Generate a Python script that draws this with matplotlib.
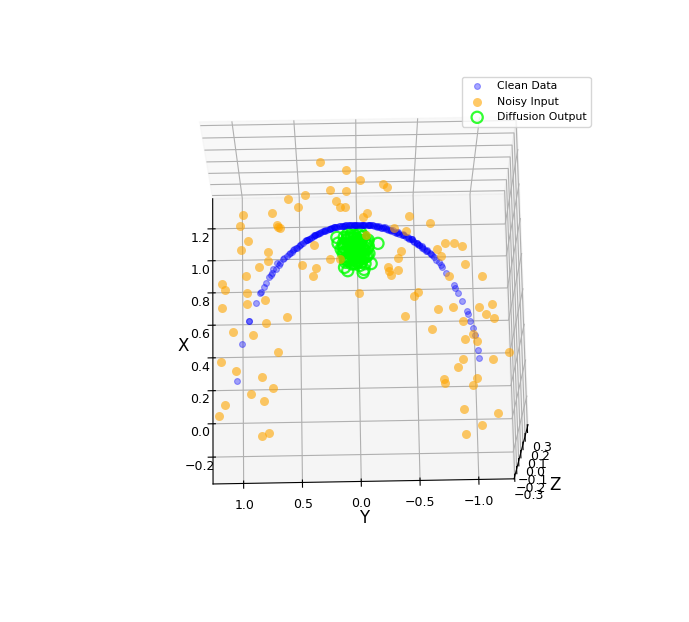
import numpy as np
import matplotlib
matplotlib.use("Agg")
import matplotlib.pyplot as plt

clean_x = [.08,.297,.431,.431,.537,.595,.601,.63,.653,.688,.7,.712,.735,.758,.77,.799,.816,.828,.85,.862,.891,.908,.925,.937,.948,.966,.977,.982,.988,.993,.993,.992,.991,.985,.974,.961,.948,.937,.913,.901,.877,.852,.829,.805,.773,.743,.731,.695,.623,.605,.576,.528,.469,.452,.41,.368,.327,.238,.191,
           .74,.77,.795,.832,.855,.875,.9,.915,.93,.945,.958,.968,.978,.984,.99,.992,.994,.994,.994,.994,.994,.992,.99,.988,.98,.978,.97,.965,.955,.94,.925,.905,.885,.865,.84,.815,.79,.76,
           .913,.94,.96,.972,.98,.986,.99,.993,.994,.994,.992,.99,.982,.972,.957,.943,.928,.908,.892,.868,.83,
           .835,.86,.885,.905,.92,.935,.95,.962,.972,.98,.987,.991,.994,.994,.994,.993,.989,.984,.976,.968,.958,.946,.933,.918,.9,.88,.858,.835,.81,
           .88,.91,.935,.955,.97,.982,.99,.994,.994,.992,.986,.975,.962,.946,.926,.9,.875,.85]
clean_y = [1.007,.967,.909,.909,.851,.818,.81,.784,.767,.741,.724,.717,.683,.657,.65,.616,.59,.572,.539,.506,.454,.42,.377,.352,.317,.267,.216,.182,.14,.08,.03,-.03,-.089,-.14,-.199,-.258,-.308,-.351,-.41,-.452,-.494,-.535,-.577,-.619,-.652,-.692,-.7,-.732,-.797,-.805,-.83,-.862,-.901,-.908,-.922,-.943,-.956,-.976,-.988,
           .71,.67,.62,.565,.53,.49,.44,.40,.365,.33,.29,.25,.21,.17,.125,.10,.06,.045,.01,-.01,-.045,-.065,-.105,-.125,-.165,-.18,-.22,-.24,-.28,-.33,-.38,-.43,-.47,-.515,-.555,-.6,-.635,-.675,
           .40,.34,.28,.23,.19,.15,.11,.07,.02,-.02,-.06,-.11,-.16,-.21,-.27,-.32,-.37,-.42,-.46,-.51,-.57,
           .55,.51,.47,.43,.39,.35,.31,.27,.23,.19,.13,.09,.05,.00,-.05,-.09,-.13,-.18,-.22,-.26,-.30,-.34,-.38,-.42,-.46,-.50,-.54,-.58,-.61,
           .48,.42,.36,.30,.24,.18,.11,.03,-.04,-.10,-.17,-.23,-.28,-.33,-.39,-.45,-.50,-.54]

noisy_x = [1.377,1.328,1.262,1.205,1.199,1.178,1.157,1.108,1.14,1.105,1.105,1.038,1.061,1.062,1.071,.997,.999,.987,.981,.908,.855,.842,.788,.748,.696,.878,.761,.737,.689,.794,.793,.932,.652,.617,.596,.531,.554,.586,.511,1.236,1.218,1.039,.996,.971,.951,.877,.877,.858,.843,.801,.835,.793,.751,.736,.713,.688,.722,.674,.677,.586,.562,.484,.494,.491,.508,.446,.45,.426,.411,.366,.333,.292,.305,.224,.187,.184,.14,.074,.071,.048,.034,-.101,-.128,-.196,-.248,.451,.418,.368,.349,.247,.193,.139,.102,.036,.003,-.054,-.034,-.118,-.222,-.24]
noisy_y = [.301,.088,-.029,.22,.092,.433,.577,.494,.17,.145,.102,-.049,-.083,.952,.714,.977,.672,.664,.647,.917,.976,.749,.749,.825,.933,.362,.465,.348,.372,.228,.145,-.07,1.135,1.11,.926,.926,.776,-.009,1.134,-.225,-.258,-.438,-.606,-.308,-.409,-.727,-.802,-.868,-.665,-.697,-.362,-.335,-.896,-.249,-.257,-.272,-.332,-1.034,-.758,-.494,-.46,-.656,-.782,-.998,-1.107,-.38,-1.053,-1.118,-.86,-.6,-.938,-.97,-.87,-1.23,-.855,-1.103,-.813,-.964,-.693,-.701,-.929,-.848,-1.125,-.989,-.856,.592,.768,1.042,.876,.669,1.139,1.016,.801,.712,.893,1.106,.786,1.161,.753,.81]

out_x = [.92,.88,.72,.708,.76,.85,.885,.74,.76,.75,.726,.82,.79,.95,.95,
         .93,.92,.91,.90,.89,.88,.87,.86,.85,.84,.83,.82,.81,.80,.79,.78,.77,.76,
         .935,.915,.895,.875,.855,.835,.815,.795,.775,.92,.89,.86,.83,.80,.77,.94,.905,.865,.825,.785,
         .93,.925,.91,.905,.895,.885,.875,.87,.86,.85,.845,.84,.83,.825,.815,.81,.80,.795,.785,.78,.77,.765,.76,
         .92,.90,.88,.86,.84,.82,.80,.78,.915,.885,.855,.825,.795,.90,.87,.84,.81]
out_y = [.171,-.171,.085,-.043,-.111,.137,.162,.111,.034,-.017,-.051,-.094,.103,.043,-.026,
         .02,-.04,.07,-.06,.03,.10,-.02,.06,-.08,.01,.09,-.05,.04,-.07,.02,.07,-.03,.05,
         -.01,.05,-.03,.08,.00,.06,-.04,.03,.01,.11,-.08,.12,.11,-.02,.00,.08,.01,-.09,.00,.09,
         .05,-.05,.00,.09,-.03,.06,-.07,.02,.11,-.04,.07,.03,-.02,.12,.00,-.08,.08,-.05,.04,-.01,.10,.03,-.06,
         .08,-.09,.12,.04,-.06,.06,.00,.09,.03,-.02,.02,-.03,.06,-.01,.01,.05,.03]

x_ticks = [-0.2, 0.0, 0.2, 0.4, 0.6, 0.8, 1.0, 1.2]
y_ticks = [-1.0, -0.5, 0.0, 0.5, 1.0]
z_ticks = [-0.3, -0.2, -0.1, 0.0, 0.1, 0.2, 0.3]

W, H = 689, 622
size, cx, cy = 480, 354.5, 311.5
fig = plt.figure(figsize=(W/100, H/100), dpi=100)
ax = fig.add_axes([(cx-size/2)/W, 1-(cy+size/2)/H, size/W, size/H], projection="3d")
ax.scatter(clean_x, clean_y, np.zeros(len(clean_x)), c="blue", alpha=0.35, s=18, linewidths=0.8, depthshade=False, label="Clean Data")
ax.scatter(noisy_x, noisy_y, np.zeros(len(noisy_x)), c="orange", alpha=0.6, s=42, linewidths=0, depthshade=False, label="Noisy Input")
ax.scatter(out_x, out_y, np.zeros(len(out_x)), facecolors="none", edgecolors="lime", alpha=0.8, s=65, linewidths=1.6, depthshade=False, label="Diffusion Output")
ax.set_xlim(-0.36, 1.39)
ax.set_ylim(-1.3, 1.26)
ax.set_zlim(-0.33, 0.33)
ax.set_xticks(x_ticks)
ax.set_yticks(y_ticks)
ax.set_zticks(z_ticks)
ax.tick_params(labelsize=9, pad=0)
ax.set_xlabel("X", fontsize=12, labelpad=-2)
ax.set_ylabel("Y", fontsize=12, labelpad=-2)
ax.set_zlabel("Z", fontsize=12, labelpad=-2)
ax.view_init(elev=73.5, azim=179)
fig.legend(loc="upper left", bbox_to_anchor=(462/W, 1-77/H), borderaxespad=0, fontsize=7.8)
fig.savefig("out.png", dpi=100)
